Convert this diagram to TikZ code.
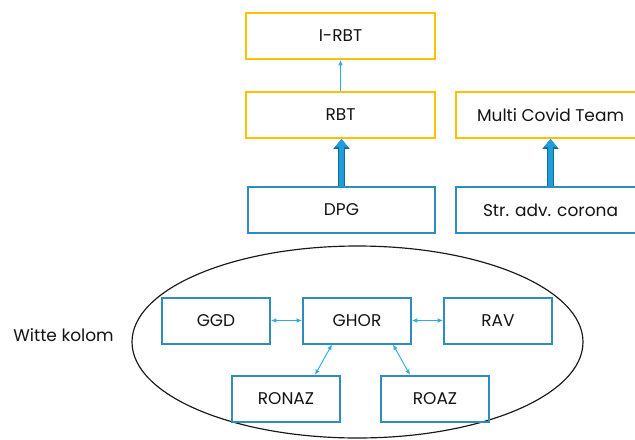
\documentclass[tikz,border=0pt]{standalone}
\usepackage{fontspec}
\setmainfont{Poppins}
\usetikzlibrary{arrows.meta, positioning}
\usepackage{xcolor}
\definecolor{rbtgold}{RGB}{255,192,0}
\definecolor{boxblue}{RGB}{46,140,190}
\definecolor{linkblue}{RGB}{45,172,226}
\definecolor{fatblue}{RGB}{30,158,218}
\definecolor{fatedge}{RGB}{24,104,150}
\definecolor{textgray}{RGB}{20,20,20}

\begin{document}
\begin{tikzpicture}[
x=0.03cm, y=0.03cm,
node distance=0.93cm,
box/.style={draw,
rectangle,
line width=1.7pt,
minimum width=5.67cm,
minimum height=1.38cm,
align=center,
text=textgray,
font=\fontsize{14.5}{16}\selectfont},
goldbox/.style={box, draw=rbtgold},
bluebox/.style={box, draw=boxblue},
smallbox/.style={bluebox, minimum width=3.24cm},
arrow/.style={-{Latex[length=4.5pt, width=4pt]}, line width=0.8pt, draw=linkblue},
link/.style={{Latex[length=4.5pt, width=4pt]}-{Latex[length=4.5pt, width=4pt]}, line width=0.8pt, draw=linkblue},
fatarrow/.style={-{Triangle[length=7pt, width=11pt]}, line width=4.2pt, draw=fatblue,
  preaction={draw=fatedge, line width=5.8pt, -{Triangle[length=8.5pt, width=13.5pt]}}}
]

\useasboundingbox (0,0) rectangle (635,-439);
\clip (0,0) rectangle (635,-439);

% bovenste lagen
\node[goldbox] (irbt) at (340.5,-36) {I-RBT};
\node[goldbox, below=of irbt] (rbt) {RBT};
\node[bluebox, below=1.41cm of rbt, xshift=0.03cm, minimum width=5.61cm] (dpg) {DPG};
\node[goldbox, right=0.57cm of rbt] (mct) {Multi Covid Team};
\node[bluebox, right=0.57cm of dpg] (sac) {Str. adv. corona};

% witte kolom
\draw[line width=1pt, black!90] (357.5,-342) ellipse [x radius=225.5, y radius=96];
\node[font=\fontsize{14.5}{16}\selectfont, text=textgray] (wk) at (63.5,-335) {Witte kolom};

\node[smallbox] (ghor) at (357,-320.5) {GHOR};
\node[smallbox, left=0.93cm of ghor] (ggd) {GGD};
\node[smallbox, right=0.93cm of ghor] (rav) {RAV};
\node[smallbox, below=0.91cm of ghor, xshift=-2.13cm] (ronaz) {RONAZ};
\node[smallbox, below=0.91cm of ghor, xshift=2.34cm] (roaz) {ROAZ};

\draw[arrow] (rbt) -- (irbt);
\draw[fatarrow] (dpg.north) -- (dpg.north |- rbt.south);
\draw[fatarrow] (sac.north) -- (mct.south);

\draw[link] (ggd) -- (ghor);
\draw[link] (ghor) -- (rav);
\draw[link] ([xshift=-0.75cm]ghor.south) -- ([xshift=0.87cm]ronaz.north);
\draw[link] ([xshift=1.08cm]ghor.south) -- ([xshift=-0.75cm]roaz.north);

\end{tikzpicture}
\end{document}
